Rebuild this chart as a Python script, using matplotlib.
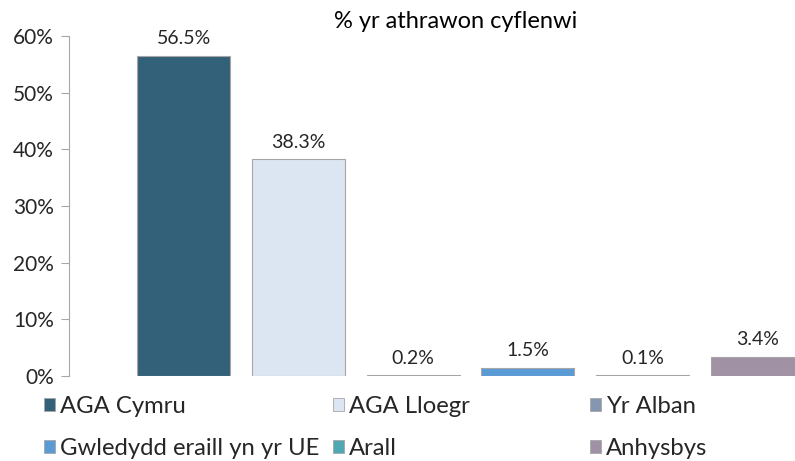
import matplotlib.pyplot as plt
from matplotlib.patches import Patch
from matplotlib.ticker import PercentFormatter

# Données du graphique
categories = ['AGA Cymru', 'AGA Lloegr', 'Yr Alban',
              'Gwledydd eraill yn yr UE', 'Arall', 'Anhysbys']
valeurs = [56.5, 38.3, 0.2, 1.5, 0.1, 3.4]
etiquettes = ['56.5%', '38.3%', '0.2%', '1.5%', '0.1%', '3.4%']
couleurs = ['#336179', '#dce6f2', '#8496b0', '#5b9bd5', '#4fa8b4', '#a092a4']
titre = '% yr athrawon cyflenwi'

plt.rcParams['font.family'] = ['Lato', 'DejaVu Sans']

fig = plt.figure(figsize=(7.95, 4.61), dpi=100)
ax = fig.add_axes([69 / 795, 85 / 461, 1 - 69 / 795, 340 / 461])

x = list(range(len(categories)))
barres = ax.bar(x, valeurs, width=0.81, color=couleurs,
                edgecolor='#a6a6a6', linewidth=0.8)
ax.bar_label(barres, labels=etiquettes, padding=6, fontsize=14, color='#262626')

ax.set_xlim(-1.0, 5.33)
ax.set_ylim(0, 60)
ax.set_yticks([0, 10, 20, 30, 40, 50, 60])
ax.yaxis.set_major_formatter(PercentFormatter(decimals=0))
ax.tick_params(axis='y', length=6, color='#a6a6a6', labelsize=15,
               labelcolor='#262626', pad=5)
ax.set_xticks([])
for cote in ['top', 'right', 'bottom']:
    ax.spines[cote].set_visible(False)
ax.spines['left'].set_color('#a6a6a6')

fig.text(456 / 795, 1 - 21 / 461, titre, ha='center', va='center',
         fontsize=17, color='#000000')

# Légende en trois colonnes placées séparément
colonnes = [[0, 3], [1, 4], [2, 5]]
positions_x = [44 / 795, 333 / 795, 590 / 795]
for col, px in zip(colonnes, positions_x):
    poignees = [Patch(facecolor=couleurs[i], edgecolor='#a6a6a6', linewidth=0.6)
                for i in col]
    fig.legend(poignees, [categories[i] for i in col], loc='upper left',
               bbox_to_anchor=(px, 1 - 396 / 461), frameon=False,
               fontsize=17.2, handlelength=0.46, handleheight=0.46,
               handletextpad=0.2, labelspacing=0.88, borderpad=0,
               borderaxespad=0, labelcolor='#262626')

fig.savefig('out.png', dpi=100)
